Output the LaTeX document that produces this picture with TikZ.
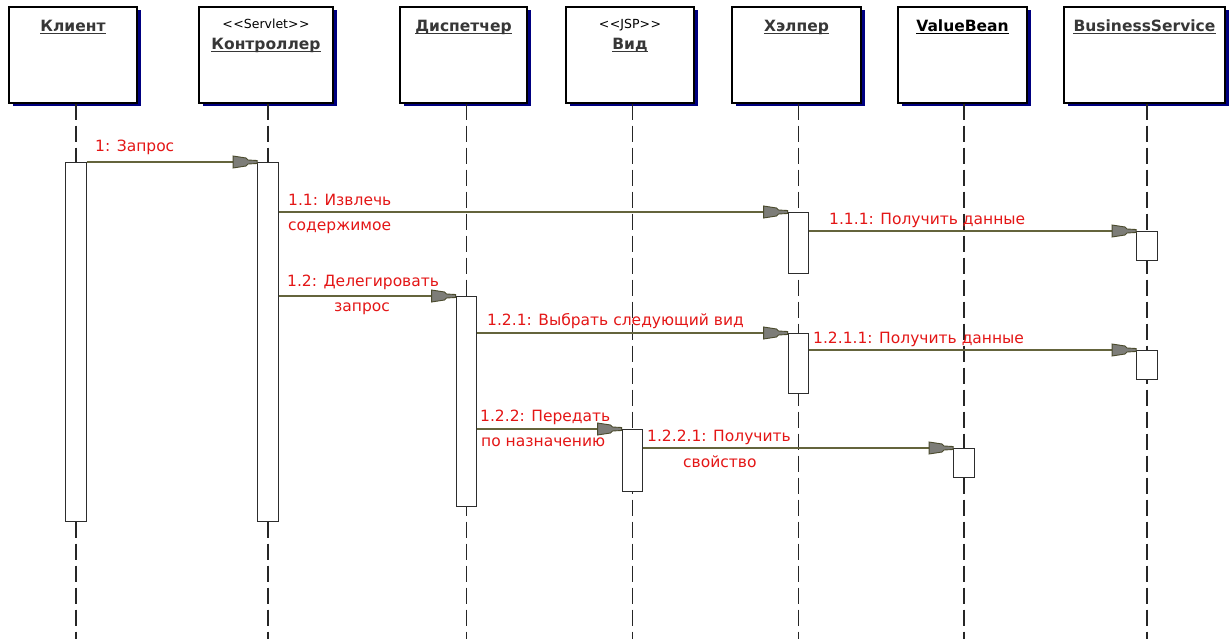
\documentclass[tikz,border=0pt]{standalone}
\usepackage{fontspec}
\setmainfont{DejaVu Sans}
\usetikzlibrary{shadows,decorations.markings}
\definecolor{shadowblue}{RGB}{0,0,128}
\definecolor{lineol}{RGB}{100,100,60}
\definecolor{tipgray}{RGB}{125,125,120}
\definecolor{tipol}{RGB}{75,75,45}
\definecolor{lblred}{RGB}{228,22,22}
\definecolor{namegray}{RGB}{55,55,55}
\definecolor{actgray}{RGB}{45,45,45}
\begin{document}
\begin{tikzpicture}[x=1pt,y=-1pt,
  hdr/.style={draw=black, line width=1.3pt, fill=white, inner sep=0pt, minimum height=96pt,
    drop shadow={shadow xshift=3.5pt, shadow yshift=-3.5pt, fill=shadowblue, opacity=1}},
  nm/.style={text=namegray, font=\fontsize{15.5}{18}\selectfont\bfseries, inner sep=0pt, anchor=base},
  st/.style={text=black, font=\fontsize{12.5}{15}\selectfont, inner sep=0pt, anchor=base},
  uline/.style={draw=namegray, line width=1pt},
  life/.style={draw=black!85, line width=1.1pt, dash pattern=on 16pt off 6pt},
  act/.style={draw=actgray, line width=1.4pt, fill=white, minimum width=20.5pt, inner sep=0pt, anchor=north},
  lb/.style={text=lblred, font=\fontsize{15.5}{18}\selectfont, inner sep=0pt, anchor=base west},
  msg/.style={draw=lineol, line width=1.4pt, postaction={decorate},
    decoration={markings, mark=at position 1 with {
      \filldraw[fill=tipgray, draw=tipol, line width=0.9pt]
        (0,-1.5) -- (-9,-2) -- (-11,-4) -- (-24,-6) -- (-24,6) -- (-11,4) -- (-9,2) -- (0,1.5) -- cycle;}}}
]
\useasboundingbox[fill=white] (0,0) rectangle (1231,639);

% header boxes
\node[hdr, minimum width=128pt] (hCl) at (73,55) {};
\node[hdr, minimum width=134pt] (hCo) at (266,55) {};
\node[hdr, minimum width=127pt] (hDi) at (463.5,55) {};
\node[hdr, minimum width=128pt] (hVi) at (630,55) {};
\node[hdr, minimum width=129pt] (hHe) at (796.5,55) {};
\node[hdr, minimum width=129pt] (hVB) at (962.5,55) {};
\node[hdr, minimum width=161pt] (hBS) at (1144.5,55) {};

% header texts
\node[nm] (tCl) at (73,31.5) {Клиент};
\node[st] (sCo) at (266,29) {<\kern0.5pt<Servlet>\kern0.5pt>};
\node[nm] (tCo) at (266,50) {Контроллер};
\node[nm] (tDi) at (463.5,31.5) {Диспетчер};
\node[st] (sVi) at (630,29) {<\kern0.5pt<JSP>\kern0.5pt>};
\node[nm] (tVi) at (630,50) {Вид};
\node[nm] (tHe) at (796.5,31.5) {Хэлпер};
\node[nm, text=black] (tVB) at (962.5,31.5) {ValueBean};
\node[nm] (tBS) at (1144.5,31.5) {BusinessService};
\foreach \n in {tCl,tCo,tDi,tVi,tHe,tBS}
  \draw[uline] ([yshift=-2pt]\n.base west) -- ([yshift=-2pt]\n.base east);
\draw[uline, draw=black] ([yshift=-2pt]tVB.base west) -- ([yshift=-2pt]tVB.base east);

% lifeline ends
\coordinate (eCl) at (76,639);
\coordinate (eCo) at (268,639);
\coordinate (eDi) at (466.5,639);
\coordinate (eVi) at (632.5,639);
\coordinate (eHe) at (798.5,639);
\coordinate (eVB) at (964,639);
\coordinate (eBS) at (1147,639);
\draw[life] (eCl |- hCl.south) -- (eCl);
\draw[life] (eCo |- hCo.south) -- (eCo);
\draw[life] (eDi |- hDi.south) -- (eDi);
\draw[life] (eVi |- hVi.south) -- (eVi);
\draw[life] (eHe |- hHe.south) -- (eHe);
\draw[life] (eVB |- hVB.south) -- (eVB);
\draw[life] (eBS |- hBS.south) -- (eBS);

% activations
\node[act, minimum height=359pt] (aCl) at (76,162) {};
\node[act, minimum height=359pt] (aCo) at (268,162) {};
\node[act, minimum height=210pt] (aDi) at (466.5,296) {};
\node[act, minimum height=62pt] (aVi) at (632.5,429) {};
\node[act, minimum height=61pt] (aHe1) at (798.5,212) {};
\node[act, minimum height=60pt] (aHe2) at (798.5,333) {};
\node[act, minimum height=29pt] (aBS1) at (1147,231) {};
\node[act, minimum height=29pt] (aBS2) at (1147,350) {};
\node[act, minimum height=29pt] (aVB) at (964,448) {};

% messages
\draw[msg] (aCl.east |- aCo.north) -- (aCo.north west);
\draw[msg] (aCo.east |- aHe1.north) -- (aHe1.north west);
\draw[msg] (aHe1.east |- aBS1.north) -- (aBS1.north west);
\draw[msg] (aCo.east |- aDi.north) -- (aDi.north west);
\draw[msg] (aDi.east |- aHe2.north) -- (aHe2.north west);
\draw[msg] (aHe2.east |- aBS2.north) -- (aBS2.north west);
\draw[msg] (aDi.east |- aVi.north) -- (aVi.north west);
\draw[msg] (aVi.east |- aVB.north) -- (aVB.north west);

% labels
\node[lb] (l1) at (95,152) {1: Запрос};
\node[lb] (l11a) at (288,206) {1.1: Извлечь};
\node[lb] (l11b) at (288,230) {содержимое};
\node[lb] (l111) at (829,225) {1.1.1: Получить данные};
\node[lb] (l12a) at (287,286) {1.2: Делегировать};
\node[lb] (l12b) at (334,311) {запрос};
\node[lb] (l121) at (487,325) {1.2.1: Выбрать следующий вид};
\node[lb] (l1211) at (813,343) {1.2.1.1: Получить данные};
\node[lb] (l122a) at (480,421) {1.2.2: Передать};
\node[lb] (l122b) at (481,446) {по назначению};
\node[lb] (l1221a) at (647,441) {1.2.2.1: Получить};
\node[lb] (l1221b) at (683,467) {свойство};
\end{tikzpicture}
\end{document}
